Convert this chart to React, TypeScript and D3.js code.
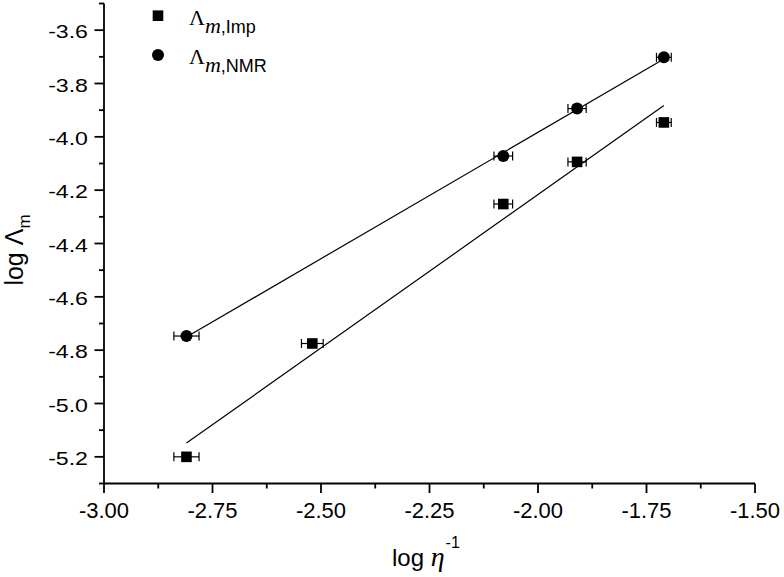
import React from "react";
import * as d3 from "d3";

const impX = [-2.81, -2.52, -2.08, -1.91, -1.71];
const impY = [-5.2, -4.775, -4.252, -4.094, -3.946];
const impErr = [0.029, 0.025, 0.0215, 0.021, 0.017];

const nmrX = [-2.81, -2.08, -1.91, -1.71];
const nmrY = [-4.747, -4.072, -3.894, -3.702];
const nmrErr = [0.029, 0.0215, 0.021, 0.017];

const xTicks = [-3.0, -2.75, -2.5, -2.25, -2.0, -1.75, -1.5];
const xMinor = [-2.875, -2.625, -2.375, -2.125, -1.875, -1.625];
const yTicks = [-5.2, -5.0, -4.8, -4.6, -4.4, -4.2, -4.0, -3.8, -3.6];
const yMinor = [-5.3, -5.1, -4.9, -4.7, -4.5, -4.3, -4.1, -3.9, -3.7, -3.5];

const W = 784;
const H = 577;
const SANS = "'Liberation Sans', Arial, sans-serif";
const SERIF = "'Liberation Serif', 'Times New Roman', serif";

function fit(xs: number[], ys: number[]) {
  const mx = d3.mean(xs) as number;
  const my = d3.mean(ys) as number;
  let sxy = 0;
  let sxx = 0;
  xs.forEach((x, i) => {
    sxy += (x - mx) * (ys[i] - my);
    sxx += (x - mx) * (x - mx);
  });
  const b = sxy / sxx;
  const a = my - b * mx;
  const x0 = d3.min(xs) as number;
  const x1 = d3.max(xs) as number;
  return [
    [x0, a + b * x0],
    [x1, a + b * x1],
  ];
}

export default function App() {
  const x = d3.scaleLinear().domain([-3.0, -1.5]).range([104, 755]);
  const y = d3.scaleLinear().domain([-5.3, -3.5]).range([483.5, 3.5]);
  const line = d3
    .line<number[]>()
    .x((d) => x(d[0]))
    .y((d) => y(d[1]));

  const impFit = fit(impX, impY);
  const nmrFit = fit(nmrX, nmrY);
  const fmtX = d3.format(".2f");
  const fmtY = d3.format(".1f");
  const cap = 4.5;

  const errBar = (px: number, py: number, e: number, key: string) => {
    const xl = x(px - e);
    const xr = x(px + e);
    const yy = y(py);
    return (
      <g key={key} stroke="#000" strokeWidth={1.2}>
        <line x1={xl} x2={xr} y1={yy} y2={yy} />
        <line x1={xl} x2={xl} y1={yy - cap} y2={yy + cap} />
        <line x1={xr} x2={xr} y1={yy - cap} y2={yy + cap} />
      </g>
    );
  };

  return (
    <svg
      width={W}
      height={H}
      style={{ position: "absolute", left: 0, top: 0, background: "#fff" }}
    >
      <rect width={W} height={H} fill="#fff" />
      {/* fit lines */}
      <path d={line(impFit) || ""} fill="none" stroke="#000" strokeWidth={1.2} />
      <path d={line(nmrFit) || ""} fill="none" stroke="#000" strokeWidth={1.2} />

      {/* error bars */}
      {impX.map((v, i) => errBar(v, impY[i], impErr[i], "ie" + i))}
      {nmrX.map((v, i) => errBar(v, nmrY[i], nmrErr[i], "ne" + i))}

      {/* markers */}
      {impX.map((v, i) => (
        <rect
          key={"is" + i}
          x={x(v) - 5.3}
          y={y(impY[i]) - 5.3}
          width={10.6}
          height={10.6}
          fill="#000"
        />
      ))}
      {nmrX.map((v, i) => (
        <circle key={"nc" + i} cx={x(v)} cy={y(nmrY[i])} r={6} fill="#000" />
      ))}

      {/* axes */}
      <g stroke="#000" strokeWidth={1.8}>
        <line x1={x(-3.0)} x2={x(-1.5)} y1={y(-5.3)} y2={y(-5.3)} />
        <line x1={x(-3.0)} x2={x(-3.0)} y1={y(-5.3)} y2={y(-3.5)} />
        {xTicks.map((t) => (
          <line key={"xt" + t} x1={x(t)} x2={x(t)} y1={y(-5.3)} y2={y(-5.3) + 9.5} />
        ))}
        {xMinor.map((t) => (
          <line key={"xm" + t} x1={x(t)} x2={x(t)} y1={y(-5.3)} y2={y(-5.3) + 5} />
        ))}
        {yTicks.map((t) => (
          <line key={"yt" + t} x1={x(-3.0) - 9.5} x2={x(-3.0)} y1={y(t)} y2={y(t)} />
        ))}
        {yMinor.map((t) => (
          <line key={"ym" + t} x1={x(-3.0) - 5} x2={x(-3.0)} y1={y(t)} y2={y(t)} />
        ))}
      </g>

      {/* tick labels */}
      {xTicks.map((t) => (
        <text
          key={"xl" + t}
          x={x(t)}
          y={518}
          textAnchor="middle"
          fontFamily={SANS}
          fontSize={22}
          fill="#000"
        >
          {fmtX(t).replace("−", "-")}
        </text>
      ))}
      {yTicks.map((t) => (
        <text
          key={"yl" + t}
          transform={`translate(88,${y(t) + 8}) scale(1.25,1)`}
          textAnchor="end"
          fontFamily={SANS}
          fontSize={18.5}
          fill="#000"
        >
          {fmtY(t).replace("−", "-")}
        </text>
      ))}

      {/* axis titles */}
      <text
        transform={`translate(23,250) rotate(-90)`}
        textAnchor="middle"
        fontFamily={SANS}
        fontSize={25}
        fill="#000"
      >
        log Λ
        <tspan fontSize={17} dy={7}>
          m
        </tspan>
      </text>
      <text x={392} y={566} fontFamily={SANS} fontSize={24} fill="#000">
        log{" "}
        <tspan fontFamily={SERIF} fontStyle="italic" fontSize={28}>
          η
        </tspan>
        <tspan fontSize={16} dy={-18} dx={1}>
          -1
        </tspan>
      </text>

      {/* legend */}
      <rect x={158 - 5.3} y={15.7 - 5.3} width={10.6} height={10.6} fill="#000" />
      <circle cx={158} cy={55} r={6} fill="#000" />
      <text x={189} y={25} fontFamily={SERIF} fontSize={22} fill="#000">
        Λ
        <tspan fontStyle="italic" fontSize={22} dy={8}>
          m
        </tspan>
        <tspan fontFamily={SANS} fontSize={18}>
          ,Imp
        </tspan>
      </text>
      <text x={189} y={63.5} fontFamily={SERIF} fontSize={22} fill="#000">
        Λ
        <tspan fontStyle="italic" fontSize={22} dy={8}>
          m
        </tspan>
        <tspan fontFamily={SANS} fontSize={18}>
          ,NMR
        </tspan>
      </text>
    </svg>
  );
}
